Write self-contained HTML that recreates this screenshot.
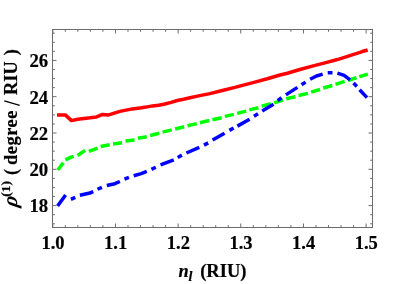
<!DOCTYPE html>
<html><head><meta charset="utf-8"><title>plot</title>
<style>
html,body{margin:0;padding:0;background:#fff;}
body{width:402px;height:284px;overflow:hidden;}
svg{display:block;will-change:transform;}
text{font-family:"Liberation Serif",serif;font-weight:bold;font-size:18.3px;fill:#000;stroke:#000;stroke-width:0.2px;}
.tl text{font-size:18.8px;}
.tx text{font-size:18.5px;}
</style></head><body>
<svg width="402" height="284" viewBox="0 0 402 284">
<rect width="402" height="284" fill="#fff"/>
<g fill="none" stroke-width="3.5" stroke-linejoin="round" stroke-linecap="butt">
<polyline stroke="#ff0000" points="57.00,114.90 65.30,114.90 71.50,120.60 77.80,119.30 84.00,118.50 90.30,117.80 96.60,116.90 102.60,114.40 108.80,114.90 119.90,111.40 132.30,108.90 140.00,107.90 146.20,107.10 152.40,105.90 158.70,105.20 164.90,104.00 171.10,102.40 177.30,100.50 183.50,99.30 190.00,97.80 197.40,96.10 209.90,93.60 222.30,90.50 235.00,87.40 242.40,85.35 254.90,82.15 267.30,78.80 280.00,75.05 287.40,73.30 299.90,69.55 312.30,66.15 325.00,62.85 337.40,59.55 349.90,55.55 362.30,51.55 367.70,49.95"/>
<g stroke="#00ff00"><polyline points="57.80,170.00 63.30,162.80"/><polyline points="65.40,159.90 70.50,157.40 73.70,156.40"/><polyline points="77.60,155.50 85.10,150.40"/><polyline points="88.80,151.30 97.70,148.10"/><polyline points="100.60,146.50 109.70,144.70"/><polyline points="113.00,143.90 122.10,142.70"/><polyline points="125.50,140.90 134.60,139.90"/><polyline points="137.90,138.30 146.80,136.70"/><polyline points="150.20,135.50 159.30,133.30"/><polyline points="162.60,132.10 171.70,129.90"/><polyline points="175.10,129.00 184.20,126.80"/><polyline points="187.50,125.80 196.80,123.60"/><polyline points="199.90,122.80 209.30,120.50"/><polyline points="212.40,119.70 221.70,117.70"/><polyline points="224.80,116.40 233.80,114.40"/><polyline points="237.10,113.40 246.20,111.10"/><polyline points="249.30,109.90 258.40,107.80"/><polyline points="261.70,106.10 270.80,103.70"/><polyline points="274.20,102.80 283.10,100.10"/><polyline points="286.20,98.80 295.50,96.70"/><polyline points="298.60,95.50 308.00,93.40"/><polyline points="311.10,92.10 320.00,89.50"/><polyline points="323.20,88.00 332.40,85.50"/><polyline points="335.50,84.30 344.60,81.40"/><polyline points="348.00,80.50 356.50,77.60"/><polyline points="359.30,76.70 367.90,74.10"/></g>
<g stroke="#0000ff"><polyline points="57.60,206.00 65.60,195.00"/><polyline points="70.91,199.37 75.29,197.43"/><polyline points="79.90,195.30 89.90,193.00 93.30,191.70"/><polyline points="97.51,189.27 101.89,187.33"/><polyline points="106.80,185.50 114.90,183.70 119.90,181.50"/><polyline points="124.47,179.18 128.93,177.42"/><polyline points="133.70,175.80 141.20,173.60 146.80,171.40"/><polyline points="151.45,169.37 155.75,167.23"/><polyline points="160.50,164.90 173.80,159.90"/><polyline points="177.69,157.45 181.91,155.15"/><polyline points="186.40,153.00 199.30,147.40"/><polyline points="203.99,145.15 208.21,142.85"/><polyline points="212.60,140.10 224.60,133.30"/><polyline points="229.42,130.39 233.58,128.01"/><polyline points="237.40,126.10 249.60,119.30"/><polyline points="253.96,116.16 258.04,113.64"/><polyline points="262.20,111.00 273.50,104.30"/><polyline points="277.68,100.64 281.52,97.76"/><polyline points="285.90,94.90 297.40,87.40"/><polyline points="301.59,84.70 305.61,82.10"/><polyline points="310.10,79.30 316.50,76.00 322.70,74.10"/><polyline points="327.70,72.81 332.50,72.69"/><polyline points="337.40,73.20 344.10,75.40 350.10,79.90"/><polyline points="353.53,82.97 356.87,86.43"/><polyline points="359.60,89.70 367.00,97.60"/></g>
</g>
<g stroke="#6a6a6a" stroke-width="1" fill="none"><line x1="52.80" y1="227.5" x2="52.80" y2="223.5"/><line x1="52.80" y1="29.5" x2="52.80" y2="33.5"/><line x1="65.33" y1="227.5" x2="65.33" y2="225.2"/><line x1="65.33" y1="29.5" x2="65.33" y2="31.8"/><line x1="77.86" y1="227.5" x2="77.86" y2="225.2"/><line x1="77.86" y1="29.5" x2="77.86" y2="31.8"/><line x1="90.40" y1="227.5" x2="90.40" y2="225.2"/><line x1="90.40" y1="29.5" x2="90.40" y2="31.8"/><line x1="102.93" y1="227.5" x2="102.93" y2="225.2"/><line x1="102.93" y1="29.5" x2="102.93" y2="31.8"/><line x1="115.46" y1="227.5" x2="115.46" y2="223.5"/><line x1="115.46" y1="29.5" x2="115.46" y2="33.5"/><line x1="127.99" y1="227.5" x2="127.99" y2="225.2"/><line x1="127.99" y1="29.5" x2="127.99" y2="31.8"/><line x1="140.52" y1="227.5" x2="140.52" y2="225.2"/><line x1="140.52" y1="29.5" x2="140.52" y2="31.8"/><line x1="153.06" y1="227.5" x2="153.06" y2="225.2"/><line x1="153.06" y1="29.5" x2="153.06" y2="31.8"/><line x1="165.59" y1="227.5" x2="165.59" y2="225.2"/><line x1="165.59" y1="29.5" x2="165.59" y2="31.8"/><line x1="178.12" y1="227.5" x2="178.12" y2="223.5"/><line x1="178.12" y1="29.5" x2="178.12" y2="33.5"/><line x1="190.65" y1="227.5" x2="190.65" y2="225.2"/><line x1="190.65" y1="29.5" x2="190.65" y2="31.8"/><line x1="203.18" y1="227.5" x2="203.18" y2="225.2"/><line x1="203.18" y1="29.5" x2="203.18" y2="31.8"/><line x1="215.72" y1="227.5" x2="215.72" y2="225.2"/><line x1="215.72" y1="29.5" x2="215.72" y2="31.8"/><line x1="228.25" y1="227.5" x2="228.25" y2="225.2"/><line x1="228.25" y1="29.5" x2="228.25" y2="31.8"/><line x1="240.78" y1="227.5" x2="240.78" y2="223.5"/><line x1="240.78" y1="29.5" x2="240.78" y2="33.5"/><line x1="253.31" y1="227.5" x2="253.31" y2="225.2"/><line x1="253.31" y1="29.5" x2="253.31" y2="31.8"/><line x1="265.84" y1="227.5" x2="265.84" y2="225.2"/><line x1="265.84" y1="29.5" x2="265.84" y2="31.8"/><line x1="278.38" y1="227.5" x2="278.38" y2="225.2"/><line x1="278.38" y1="29.5" x2="278.38" y2="31.8"/><line x1="290.91" y1="227.5" x2="290.91" y2="225.2"/><line x1="290.91" y1="29.5" x2="290.91" y2="31.8"/><line x1="303.44" y1="227.5" x2="303.44" y2="223.5"/><line x1="303.44" y1="29.5" x2="303.44" y2="33.5"/><line x1="315.97" y1="227.5" x2="315.97" y2="225.2"/><line x1="315.97" y1="29.5" x2="315.97" y2="31.8"/><line x1="328.50" y1="227.5" x2="328.50" y2="225.2"/><line x1="328.50" y1="29.5" x2="328.50" y2="31.8"/><line x1="341.04" y1="227.5" x2="341.04" y2="225.2"/><line x1="341.04" y1="29.5" x2="341.04" y2="31.8"/><line x1="353.57" y1="227.5" x2="353.57" y2="225.2"/><line x1="353.57" y1="29.5" x2="353.57" y2="31.8"/><line x1="366.10" y1="227.5" x2="366.10" y2="223.5"/><line x1="366.10" y1="29.5" x2="366.10" y2="33.5"/><line x1="52.5" y1="223.75" x2="54.8" y2="223.75"/><line x1="372.5" y1="223.75" x2="370.2" y2="223.75"/><line x1="52.5" y1="214.68" x2="54.8" y2="214.68"/><line x1="372.5" y1="214.68" x2="370.2" y2="214.68"/><line x1="52.5" y1="205.60" x2="56.5" y2="205.60"/><line x1="372.5" y1="205.60" x2="368.5" y2="205.60"/><line x1="52.5" y1="196.52" x2="54.8" y2="196.52"/><line x1="372.5" y1="196.52" x2="370.2" y2="196.52"/><line x1="52.5" y1="187.45" x2="54.8" y2="187.45"/><line x1="372.5" y1="187.45" x2="370.2" y2="187.45"/><line x1="52.5" y1="178.38" x2="54.8" y2="178.38"/><line x1="372.5" y1="178.38" x2="370.2" y2="178.38"/><line x1="52.5" y1="169.30" x2="56.5" y2="169.30"/><line x1="372.5" y1="169.30" x2="368.5" y2="169.30"/><line x1="52.5" y1="160.22" x2="54.8" y2="160.22"/><line x1="372.5" y1="160.22" x2="370.2" y2="160.22"/><line x1="52.5" y1="151.15" x2="54.8" y2="151.15"/><line x1="372.5" y1="151.15" x2="370.2" y2="151.15"/><line x1="52.5" y1="142.07" x2="54.8" y2="142.07"/><line x1="372.5" y1="142.07" x2="370.2" y2="142.07"/><line x1="52.5" y1="133.00" x2="56.5" y2="133.00"/><line x1="372.5" y1="133.00" x2="368.5" y2="133.00"/><line x1="52.5" y1="123.92" x2="54.8" y2="123.92"/><line x1="372.5" y1="123.92" x2="370.2" y2="123.92"/><line x1="52.5" y1="114.85" x2="54.8" y2="114.85"/><line x1="372.5" y1="114.85" x2="370.2" y2="114.85"/><line x1="52.5" y1="105.78" x2="54.8" y2="105.78"/><line x1="372.5" y1="105.78" x2="370.2" y2="105.78"/><line x1="52.5" y1="96.70" x2="56.5" y2="96.70"/><line x1="372.5" y1="96.70" x2="368.5" y2="96.70"/><line x1="52.5" y1="87.62" x2="54.8" y2="87.62"/><line x1="372.5" y1="87.62" x2="370.2" y2="87.62"/><line x1="52.5" y1="78.55" x2="54.8" y2="78.55"/><line x1="372.5" y1="78.55" x2="370.2" y2="78.55"/><line x1="52.5" y1="69.48" x2="54.8" y2="69.48"/><line x1="372.5" y1="69.48" x2="370.2" y2="69.48"/><line x1="52.5" y1="60.40" x2="56.5" y2="60.40"/><line x1="372.5" y1="60.40" x2="368.5" y2="60.40"/><line x1="52.5" y1="51.33" x2="54.8" y2="51.33"/><line x1="372.5" y1="51.33" x2="370.2" y2="51.33"/><line x1="52.5" y1="42.25" x2="54.8" y2="42.25"/><line x1="372.5" y1="42.25" x2="370.2" y2="42.25"/><line x1="52.5" y1="33.18" x2="54.8" y2="33.18"/><line x1="372.5" y1="33.18" x2="370.2" y2="33.18"/></g>
<rect x="52.5" y="29.5" width="320.00" height="198.00" fill="none" stroke="#6c6c6c" stroke-width="1"/>
<g class="tl"><text x="48.2" y="212.40" text-anchor="end">18</text><text x="48.2" y="176.10" text-anchor="end">20</text><text x="48.2" y="139.80" text-anchor="end">22</text><text x="48.2" y="103.50" text-anchor="end">24</text><text x="48.2" y="67.20" text-anchor="end">26</text></g><g class="tx"><text x="53.00" y="249.1" text-anchor="middle">1.0</text><text x="115.66" y="249.1" text-anchor="middle">1.1</text><text x="178.32" y="249.1" text-anchor="middle">1.2</text><text x="240.98" y="249.1" text-anchor="middle">1.3</text><text x="303.64" y="249.1" text-anchor="middle">1.4</text><text x="366.30" y="249.1" text-anchor="middle">1.5</text></g>
<text x="178.4" y="277.3"><tspan style="font-style:italic">n</tspan><tspan style="font-style:italic;font-size:14px" dy="3.5">l</tspan></text><text x="200.2" y="277.3" style="font-size:18.5px">(RIU)</text>
<g transform="translate(16.7,208) rotate(-90)">
<text x="0.4" y="0" transform="skewX(-10)" style="font-style:italic;font-size:21px;stroke:none">ρ</text>
<text x="11.3" y="-6.8" style="font-size:13.5px">(1)</text>
<text x="33" y="0">(</text>
<text x="43" y="0" style="letter-spacing:0.6px">degree</text>
<line x1="102.7" y1="3.0" x2="107.2" y2="-12.4" stroke="#000" stroke-width="1.3"/>
<text x="113.1" y="0">RIU</text>
<text x="152.7" y="0">)</text>
</g>
</svg>
</body></html>
